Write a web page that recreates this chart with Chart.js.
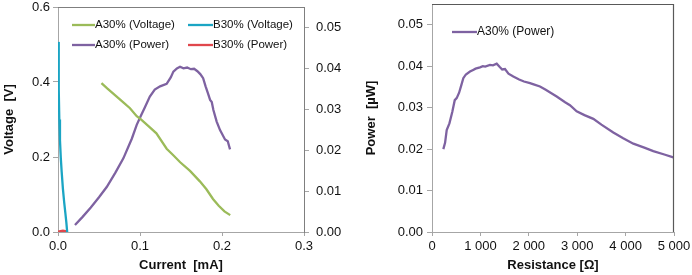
<!DOCTYPE html>
<html>
<head>
<meta charset="utf-8">
<script src="https://cdn.jsdelivr.net/npm/chart.js@4.4.0/dist/chart.umd.min.js"></script>
<style>
    html, body { margin: 0; padding: 0; background: #fff; }
    #izq { position: absolute; left: 0; top: 0; width: 347px; height: 275px; }
    #der { position: absolute; left: 345px; top: 0; width: 347px; height: 275px; }
</style>
</head>
<body>
<div id="izq"><canvas id="chartCorriente"></canvas></div>
<div id="der"><canvas id="chartResistencia"></canvas></div>
<script>
// valores
const corrienteVoltA = [0.053, 0.060, 0.0716, 0.080, 0.0878, 0.096, 0.1008, 0.110, 0.120, 0.1325, 0.140, 0.149, 0.161, 0.173, 0.181, 0.189, 0.196, 0.203, 0.210];
const voltajeA = [0.397, 0.383, 0.361, 0.345, 0.330, 0.309, 0.301, 0.283, 0.263, 0.222, 0.206, 0.186, 0.163, 0.135, 0.114, 0.088, 0.070, 0.055, 0.045];

const corrienteVoltB = [0.0003, 0.0007, 0.0011, 0.0016, 0.0024, 0.0034, 0.0045, 0.006, 0.0075, 0.009, 0.0102, 0.0112];
const voltajeB = [0.507, 0.45, 0.38, 0.30, 0.245, 0.198, 0.160, 0.115, 0.08, 0.05, 0.025, 0.0];

const corrientePotA = [0.0207, 0.030, 0.040, 0.050, 0.0594, 0.070, 0.0797, 0.090, 0.096, 0.1008, 0.106, 0.112, 0.118, 0.1245, 0.1325, 0.1375, 0.1407, 0.145, 0.1488, 0.153, 0.1575, 0.162, 0.166, 0.170, 0.1735, 0.177, 0.180, 0.183, 0.1855, 0.1875, 0.1895, 0.1935, 0.1976, 0.200, 0.2037, 0.207, 0.2098];
const potenciaA = [0.0017, 0.0037, 0.0060, 0.0085, 0.0110, 0.0145, 0.0180, 0.0228, 0.0262, 0.0283, 0.0305, 0.0331, 0.0348, 0.0356, 0.0362, 0.0378, 0.0392, 0.0400, 0.0404, 0.0400, 0.0402, 0.0398, 0.0399, 0.0393, 0.0386, 0.0376, 0.0356, 0.0338, 0.0323, 0.0318, 0.0298, 0.0270, 0.0249, 0.0240, 0.0226, 0.0222, 0.0202];

const corrientePotB = [0.0, 0.003, 0.006, 0.009, 0.011];
const potenciaB = [0.0001, 0.0002, 0.0003, 0.0002, 0.0001];

const resistencia = [234, 270, 304, 360, 420, 470, 510, 560, 600, 647, 700, 785, 850, 900, 992, 1050, 1100, 1198, 1260, 1337, 1400, 1450, 1508, 1580, 1680, 1800, 1900, 2025, 2100, 2231, 2350, 2450, 2576, 2750, 2850, 2989, 3150, 3333, 3500, 3746, 3950, 4160, 4400, 4572, 4800, 4986];
const potenciaR = [0.0200, 0.0215, 0.0246, 0.0262, 0.0290, 0.0318, 0.0323, 0.0336, 0.0352, 0.0371, 0.0380, 0.0387, 0.0391, 0.0394, 0.0397, 0.0400, 0.0399, 0.0403, 0.0402, 0.0406, 0.0398, 0.0392, 0.0393, 0.0382, 0.0375, 0.0368, 0.0363, 0.0359, 0.0356, 0.0351, 0.0343, 0.0336, 0.0327, 0.0313, 0.0306, 0.0291, 0.0282, 0.0273, 0.0259, 0.0240, 0.0226, 0.0213, 0.0203, 0.0195, 0.0187, 0.0180];

const ticksVoltaje = [0, 0.2, 0.4, 0.6];
const ticksPotencia = [0, 0.01, 0.02, 0.03, 0.04, 0.05];
const ticksCorriente = [0, 0.1, 0.2, 0.3];
const ticksResistencia = [0, 1000, 2000, 3000, 4000, 5000];

const colores = {
    verde: "#9BBB59",
    cian: "#1BA5C4",
    morado: "#7E62A1",
    rojo: "#E0474C"
};

const fuente = "'Liberation Sans', Arial, sans-serif";
const gris = "#a6a6a6";

function puntos(xs, ys) {
    return xs.map((x, i) => ({ x: x, y: ys[i] }));
}

function serie(label, xs, ys, color, eje) {
    return {
        label: label,
        data: puntos(xs, ys),
        borderColor: color,
        backgroundColor: color,
        borderWidth: 2.3,
        pointRadius: 0,
        showLine: true,
        tension: 0,
        yAxisID: eje
    };
}

function fijarTicks(valores) {
    return axis => { axis.ticks = valores.map(v => ({ value: v })); };
}

// ancho/alto fijo del eje y sin relleno extra por las etiquetas
function fijarTamano(dim, valor) {
    return axis => {
        axis[dim] = valor;
        axis.paddingTop = 0;
        axis.paddingBottom = 0;
        axis.paddingLeft = 0;
        axis.paddingRight = 0;
    };
}

// marco superior / derecho y leyenda dibujada dentro del area
const marcoPlugin = {
    id: "marco",
    afterDraw(chart, args, opts) {
        const ctx = chart.ctx;
        const a = chart.chartArea;
        ctx.save();
        ctx.strokeStyle = opts.color;
        ctx.lineWidth = 1.2;
        ctx.beginPath();
        ctx.moveTo(a.left, a.top + 0.5);
        ctx.lineTo(a.right, a.top + 0.5);
        if (opts.derecho) {
            ctx.moveTo(a.right - 0.5, a.top);
            ctx.lineTo(a.right - 0.5, a.bottom);
        }
        ctx.stroke();

        ctx.font = opts.tamano + "px " + fuente;
        ctx.textBaseline = "middle";
        ctx.fillStyle = "#111";
        chart.data.datasets.forEach((ds, i) => {
            const p = opts.posiciones[i];
            ctx.strokeStyle = ds.borderColor;
            ctx.lineWidth = 2.3;
            ctx.beginPath();
            ctx.moveTo(p[0], p[2]);
            ctx.lineTo(p[1], p[2]);
            ctx.stroke();
            ctx.fillText(ds.label, p[1], p[2]);
        });
        ctx.restore();
    }
};

const tickFont = { family: fuente, size: 13 };
const tituloFont = { family: fuente, size: 13, weight: "bold" };

new Chart(document.getElementById("chartCorriente"), {
    type: "scatter",
    data: {
        datasets: [
            serie("A30% (Voltage)", corrienteVoltA, voltajeA, colores.verde, "y"),
            serie("B30% (Voltage)", corrienteVoltB, voltajeB, colores.cian, "y"),
            serie("A30% (Power)", corrientePotA, potenciaA, colores.morado, "yP"),
            serie("B30% (Power)", corrientePotB, potenciaB, colores.rojo, "yP")
        ]
    },
    options: {
        responsive: true,
        maintainAspectRatio: false,
        animation: false,
        layout: { padding: { top: 7, left: 0, right: 0, bottom: 0 } },
        plugins: {
            legend: { display: false },
            tooltip: { enabled: false },
            marco: {
                color: "#7f7f7f",
                derecho: false,
                tamano: 11.5,
                posiciones: [[72, 95, 25], [188, 213, 25], [72, 95, 45], [188, 213, 45]]
            }
        },
        scales: {
            x: {
                type: "linear",
                min: 0, max: 0.3,
                afterBuildTicks: fijarTicks(ticksCorriente),
                afterFit: fijarTamano("height", 43),
                grid: { display: true, drawOnChartArea: false, drawTicks: true, tickLength: 4, color: gris },
                border: { display: true, color: gris },
                ticks: { font: tickFont, color: "#111", padding: 3, maxRotation: 0, callback: v => v.toFixed(1) },
                title: { display: true, text: "Current  [mA]", font: tituloFont, color: "#111", padding: { top: 0, bottom: 2 } }
            },
            y: {
                type: "linear",
                position: "left",
                min: 0, max: 0.6,
                afterBuildTicks: fijarTicks(ticksVoltaje),
                afterFit: fijarTamano("width", 58),
                grid: { display: true, drawOnChartArea: false, drawTicks: true, tickLength: 5, color: gris },
                border: { display: true, color: gris },
                ticks: { font: tickFont, color: "#111", padding: 3, callback: v => v.toFixed(1) },
                title: { display: true, text: "Voltage  [V]", font: tituloFont, color: "#111", padding: { top: 2, bottom: 0 } }
            },
            yP: {
                type: "linear",
                position: "right",
                min: 0, max: 0.055,
                afterBuildTicks: fijarTicks(ticksPotencia),
                afterFit: fijarTamano("width", 43),
                grid: { display: true, drawOnChartArea: false, drawTicks: true, tickLength: 5, color: gris },
                border: { display: true, color: "#7f7f7f" },
                ticks: { font: tickFont, color: "#111", padding: 7, callback: v => v.toFixed(2) }
            }
        }
    },
    plugins: [marcoPlugin]
});

new Chart(document.getElementById("chartResistencia"), {
    type: "scatter",
    data: {
        datasets: [
            serie("A30% (Power)", resistencia, potenciaR, colores.morado, "y")
        ]
    },
    options: {
        responsive: true,
        maintainAspectRatio: false,
        animation: false,
        layout: { padding: { top: 4, left: 0, right: 18, bottom: 0 } },
        plugins: {
            legend: { display: false },
            tooltip: { enabled: false },
            marco: {
                color: "#595959",
                derecho: true,
                tamano: 12,
                posiciones: [[107, 132, 32]]
            }
        },
        scales: {
            x: {
                type: "linear",
                min: 0, max: 5000,
                afterBuildTicks: fijarTicks(ticksResistencia),
                afterFit: fijarTamano("height", 43),
                grid: { display: true, drawOnChartArea: false, drawTicks: true, tickLength: 4, color: gris },
                border: { display: true, color: gris },
                ticks: {
                    font: tickFont, color: "#111", padding: 3, maxRotation: 0,
                    callback: v => v === 0 ? "0" : (v / 1000) + " 000"
                },
                title: { display: true, text: "Resistance [Ω]", font: tituloFont, color: "#111", padding: { top: 0, bottom: 2 } }
            },
            y: {
                type: "linear",
                position: "left",
                min: 0, max: 0.055,
                afterBuildTicks: fijarTicks(ticksPotencia),
                afterFit: fijarTamano("width", 87),
                grid: { display: true, drawOnChartArea: false, drawTicks: true, tickLength: 5, color: gris },
                border: { display: true, color: gris },
                ticks: { font: tickFont, color: "#111", padding: 4, callback: v => v.toFixed(2) },
                title: { display: true, text: "Power  [µW]", font: tituloFont, color: "#111", padding: { top: 19, bottom: 0 } }
            }
        }
    },
    plugins: [marcoPlugin]
});
</script>
</body>
</html>
